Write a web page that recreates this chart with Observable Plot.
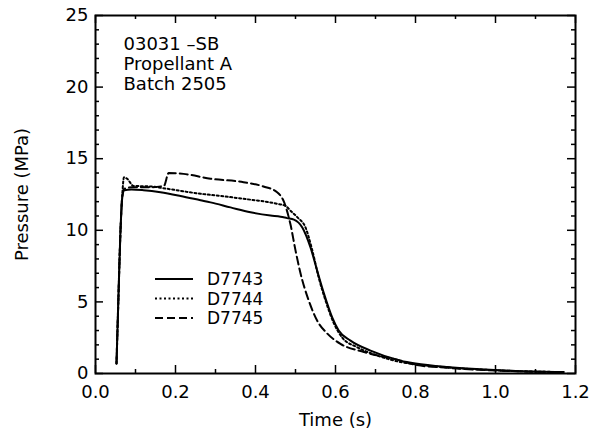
<!DOCTYPE html>
<html><head><meta charset="utf-8">
<script src="https://cdn.jsdelivr.net/npm/d3@7"></script>
<script src="https://cdn.jsdelivr.net/npm/@observablehq/plot@0.6"></script>
<style>
body{margin:0;background:#fff;}
#chart{width:589px;height:430px;}
svg{font-family:"DejaVu Sans",sans-serif;}
</style></head><body><div id="chart"></div>
<script>
// ---- data ----
const seriesNames = ["D7743", "D7744", "D7745"];

const tD7743 = [0.0525,0.057,0.0625,0.067,0.072,0.09,0.12,0.1625,0.2125,0.2625,0.2875,0.3375,0.3875,0.4375,0.4625,0.479,0.496,0.517,0.5375,0.554,0.571,0.592,0.608,0.6375,0.6875,0.7625,0.8,0.88,0.96,1.05,1.17];
const pD7743 = [0.7,5.0,10.0,12.3,12.8,12.85,12.8,12.66,12.4,12.1,11.95,11.6,11.26,11.03,10.95,10.85,10.75,10.2,8.8,7.2,5.6,3.9,3.0,2.3,1.6,0.9,0.7,0.45,0.3,0.18,0.1];

const tD7744 = [0.0525,0.057,0.0625,0.067,0.071,0.079,0.095,0.1375,0.179,0.2625,0.3125,0.37,0.454,0.475,0.49,0.505,0.525,0.542,0.558,0.575,0.596,0.617,0.654,0.704,0.7625,0.8,0.88,0.96,1.05,1.17];
const pD7744 = [0.7,5.0,10.0,12.5,13.7,13.6,13.1,13.06,12.9,12.55,12.4,12.2,11.85,11.7,11.3,10.9,10.2,8.6,6.7,5.1,3.5,2.5,1.84,1.26,0.8,0.65,0.42,0.28,0.17,0.1];

const tD7745 = [0.0525,0.057,0.0625,0.067,0.072,0.09,0.13,0.171,0.183,0.22,0.2875,0.37,0.42,0.454,0.471,0.4875,0.5,0.5125,0.533,0.554,0.579,0.6125,0.671,0.7625,0.8,0.88,0.96,1.05,1.17];
const pD7745 = [0.7,5.0,10.0,12.4,12.9,13.0,13.0,13.1,14.0,13.94,13.6,13.36,13.06,12.66,12.0,10.4,8.6,7.0,5.1,3.7,2.8,2.07,1.5,0.9,0.6,0.4,0.26,0.16,0.1];

const xMajorTicks = [0, 0.2, 0.4, 0.6, 0.8, 1.0, 1.2];
const xMinorTicks = [0.1, 0.3, 0.5, 0.7, 0.9, 1.1];
const yMajorTicks = [0, 5, 10, 15, 20, 25];
const yMinorTicks = [1,2,3,4,6,7,8,9,11,12,13,14,16,17,18,19,21,22,23,24];

const annotationLines = ["03031 –SB", "Propellant A", "Batch 2505"];
const xTitle = "Time (s)";
const yTitle = "Pressure (MPa)";

// ---- build table ----
const seriesT = [tD7743, tD7744, tD7745];
const seriesP = [pD7743, pD7744, pD7745];
const rows = seriesNames.flatMap((name, i) => seriesT[i].map((t, j) => ({series: name, t, p: seriesP[i][j]})));

// ---- styles / layout ----
const dashStyle = {"D7743": null, "D7744": "2,2.5", "D7745": "8,4"};
const W = 589, H = 430;
const mL = 95, mR = 14, mT = 15, mB = 57;
const fW = W - mL - mR, fH = H - mT - mB;
const majorLen = 8, minorLen = 4;

const tickGrid = (fn, ticks, len, side) => {
  const o = {stroke: "black", strokeOpacity: 1, strokeWidth: 1.5};
  if (side === "bottom") o.insetTop = fH - len;
  if (side === "top") o.insetBottom = fH - len;
  if (side === "left") o.insetRight = fW - len;
  if (side === "right") o.insetLeft = fW - len;
  return fn(ticks, o);
};

const lineMarks = seriesNames.map(name => Plot.line(rows.filter(d => d.series === name), {
  x: "t", y: "p", stroke: "black", strokeWidth: 2, curve: "monotone-x",
  strokeDasharray: dashStyle[name]
}));

const chart = Plot.plot({
  width: W, height: H,
  marginLeft: mL, marginRight: mR, marginTop: mT, marginBottom: mB,
  style: {fontFamily: "DejaVu Sans, sans-serif", background: "white", color: "black"},
  x: {domain: [0, 1.2]},
  y: {domain: [0, 25]},
  marks: [
    ...["bottom", "top"].flatMap(s => [tickGrid(Plot.gridX, xMajorTicks, majorLen, s), tickGrid(Plot.gridX, xMinorTicks, minorLen, s)]),
    ...["left", "right"].flatMap(s => [tickGrid(Plot.gridY, yMajorTicks, majorLen, s), tickGrid(Plot.gridY, yMinorTicks, minorLen, s)]),
    Plot.axisX(xMajorTicks, {tickSize: 0, tickPadding: 12, fontSize: 18, tickFormat: d => d.toFixed(1),
      label: xTitle, labelAnchor: "center", labelArrow: "none", labelOffset: 52}),
    Plot.axisY(yMajorTicks, {tickSize: 0, tickPadding: 7, fontSize: 18, tickFormat: d => String(d),
      label: yTitle, labelAnchor: "center", labelArrow: "none", labelOffset: 80}),
    ...lineMarks,
    Plot.frame({stroke: "black", strokeWidth: 2}),
    Plot.text([annotationLines.join("\n")], {frameAnchor: "top-left", dx: 28, dy: 20, lineAnchor: "top",
      textAnchor: "start", fontSize: 18, lineHeight: 1.11})
  ]
});
document.getElementById("chart").appendChild(chart);

// legend (layout only)
const svg = d3.select(chart);
const lg = svg.append("g").attr("transform", `translate(${mL + 60},${mT + 264})`);
seriesNames.forEach((name, i) => {
  const g = lg.append("g").attr("transform", `translate(0,${i * 19.5})`);
  g.append("line").attr("x1", 0).attr("x2", 38).attr("y1", 0).attr("y2", 0)
    .attr("stroke", "black").attr("stroke-width", 2)
    .attr("stroke-dasharray", dashStyle[name]);
  g.append("text").attr("x", 52).attr("y", 0).attr("dy", "0.36em")
    .attr("text-anchor", "start")
    .attr("font-size", 17).attr("fill", "black").text(name);
});
</script></body></html>
